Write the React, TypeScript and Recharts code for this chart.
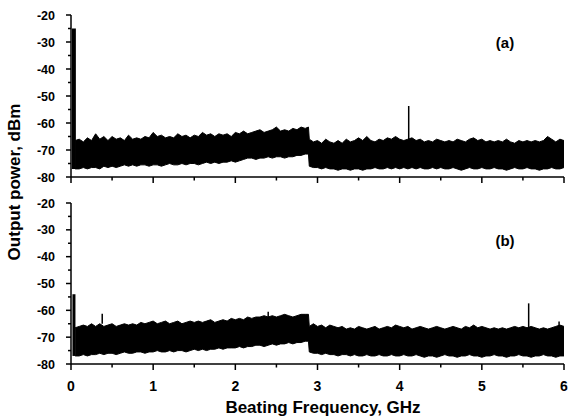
import { Area, ComposedChart, Line, XAxis, YAxis } from 'recharts'

const FONT = '"Liberation Sans", Arial, Helvetica, sans-serif'

// beat frequency grid, GHz (2.89 marks the step in the floor)
const freq = [
  0.05, 0.1, 0.15, 0.2, 0.25, 0.3, 0.35, 0.4, 0.45, 0.5,
  0.55, 0.6, 0.65, 0.7, 0.75, 0.8, 0.85, 0.9, 0.95, 1.0,
  1.05, 1.1, 1.15, 1.2, 1.25, 1.3, 1.35, 1.4, 1.45, 1.5,
  1.55, 1.6, 1.65, 1.7, 1.75, 1.8, 1.85, 1.9, 1.95, 2.0,
  2.05, 2.1, 2.15, 2.2, 2.25, 2.3, 2.35, 2.4, 2.45, 2.5,
  2.55, 2.6, 2.65, 2.7, 2.75, 2.8, 2.85, 2.89, 2.9, 2.95, 3.0,
  3.05, 3.1, 3.15, 3.2, 3.25, 3.3, 3.35, 3.4, 3.45, 3.5,
  3.55, 3.6, 3.65, 3.7, 3.75, 3.8, 3.85, 3.9, 3.95, 4.0,
  4.05, 4.1, 4.15, 4.2, 4.25, 4.3, 4.35, 4.4, 4.45, 4.5,
  4.55, 4.6, 4.65, 4.7, 4.75, 4.8, 4.85, 4.9, 4.95, 5.0,
  5.05, 5.1, 5.15, 5.2, 5.25, 5.3, 5.35, 5.4, 5.45, 5.5,
  5.55, 5.6, 5.65, 5.7, 5.75, 5.8, 5.85, 5.9, 5.95, 6.0,
]

// panel (a): noise floor upper / lower envelope, dBm
const hiA = [
  -66.5, -66, -67, -65.5, -66.5, -64, -66, -65, -66.5, -65,
  -66, -65.5, -66.5, -64.5, -66, -65.5, -66, -65, -65.5, -63.5,
  -65, -64.5, -65.5, -65, -65.5, -64, -65, -64.5, -65.5, -64.5,
  -65, -63.5, -64.5, -64, -65, -64, -64.5, -64, -65, -63.5,
  -64, -63, -64, -63.5, -63, -62.5, -63.5, -63, -62.5, -61.5,
  -63, -62.5, -63, -62, -62.5, -61.5, -62, -61.5, -66, -67, -66.5,
  -67.5, -66, -67, -67.5, -66.5, -67.5, -66, -67, -66.5, -65.5,
  -66.5, -65, -66.5, -67, -66, -66.5, -65.5, -66, -65, -66,
  -66.5, -66, -65.5, -66.5, -66, -67, -66.5, -67, -66, -66.5,
  -67, -66.5, -67, -66, -66.5, -67, -66, -65.5, -66.5, -66,
  -67, -66.5, -67, -66.5, -67, -66, -67, -67.5, -66.5, -67,
  -66.5, -67, -66.5, -67, -66.5, -65, -66, -67, -66, -66.5,
]
const loA = [
  -77, -77, -76.5, -77, -76.5, -76.5, -77, -76, -76.5, -76,
  -76.5, -76, -75.5, -76, -75.5, -76, -75.5, -75.5, -76, -75.5,
  -75.5, -76, -75.5, -75, -75.5, -75.5, -75, -75.5, -75, -75,
  -75.5, -75, -74.5, -75, -74.5, -75, -74.5, -74.5, -74, -74.5,
  -74, -73.5, -73, -73, -73.5, -73, -73, -72.5, -73, -72.5,
  -72.5, -73, -72.5, -72.5, -72, -72, -71.5, -71.5, -76, -76.5, -76.5,
  -77, -76.5, -77, -77, -77.5, -77, -77, -77.5, -77, -77,
  -77.5, -77, -77, -76.5, -77, -77, -76.5, -77, -76.5, -77,
  -76.5, -77, -76.5, -77, -76.5, -77, -77, -76.5, -77, -76.5,
  -77, -77, -76.5, -77, -77.5, -77, -76.5, -77, -77, -76.5,
  -77, -77, -76.5, -77, -77, -77.5, -77, -76.5, -77, -77,
  -76.5, -77, -77, -77.5, -77, -77, -76.5, -77, -77, -76.5,
]

// panel (b)
const hiB = [
  -66.5, -66, -65.5, -66, -65, -66, -65, -66, -65.5, -65,
  -66, -65.5, -65, -65.5, -65, -65.5, -64.5, -65, -64.5, -64,
  -65, -64.5, -64, -65, -64.5, -64, -65, -64.5, -64, -64.5,
  -64, -64.5, -64, -63.5, -64.5, -64, -63.5, -64, -63, -63.5,
  -63, -63.5, -62.5, -63, -62.5, -62.5, -62, -62.5, -62, -62.5,
  -62, -61.5, -62, -62.5, -62, -61.5, -61.5, -61.5, -66, -65, -66,
  -65.5, -66.5, -65.5, -66, -66.5, -66, -67, -66.5, -67, -66,
  -66.5, -67, -66.5, -66, -67, -66.5, -66, -66.5, -65.5, -66,
  -66.5, -66, -67, -66.5, -66, -66.5, -67, -66.5, -66, -66.5,
  -67, -66.5, -66, -66.5, -67, -66, -66.5, -65.5, -66.5, -66,
  -66.5, -67, -66.5, -67, -66.5, -67, -66.5, -66, -66.5, -66,
  -66.5, -66, -66.5, -67, -66.5, -67, -66.5, -66, -65.5, -66,
]
const loB = [
  -77, -77, -76.5, -77, -76.5, -76.5, -76, -76.5, -76, -76,
  -76.5, -76, -75.5, -76, -76, -75.5, -75.5, -76, -75.5, -75.5,
  -75, -75.5, -75.5, -75, -75.5, -75, -75, -75.5, -75, -74.5,
  -75, -74.5, -75, -74.5, -74.5, -74, -74.5, -74, -74, -74,
  -73.5, -74, -73.5, -73.5, -73, -73, -73.5, -73, -72.5, -73,
  -72.5, -72.5, -72, -72.5, -72, -72, -71.5, -71.5, -75.5, -76, -76,
  -76.5, -76, -76.5, -76.5, -77, -76.5, -76.5, -77, -76.5, -77,
  -77, -76.5, -77, -77, -76.5, -77, -77, -76.5, -77, -77,
  -76.5, -77, -77, -76.5, -77, -77.5, -77, -77, -77.5, -77,
  -76.5, -77, -77, -77.5, -77, -77, -76.5, -77, -77, -77.5,
  -77, -77, -76.5, -77, -77, -77.5, -77, -77, -76.5, -77,
  -77, -77.5, -77, -77, -76.5, -77, -77, -77.5, -77, -77,
]

// narrow beat tones sticking out of the floor
const spikeFreqA = [0.035, 4.11]
const spikeTopA = [-25, -53.7]
const spikeBaseA = [-77, -66]
const spikeWidthA = [4, 1.5]

const spikeFreqB = [0.036, 0.38, 2.4, 5.57, 5.94]
const spikeTopB = [-54, -61.3, -60.5, -57.4, -64.2]
const spikeBaseB = [-77, -65, -62.5, -66.5, -66]
const spikeWidthB = [3, 1.5, 1.5, 1.5, 1.5]

const xTicks = [0, 0.5, 1, 1.5, 2, 2.5, 3, 3.5, 4, 4.5, 5, 5.5, 6]
const yTicks = [-80, -75, -70, -65, -60, -55, -50, -45, -40, -35, -30, -25, -20]

function XTick({ x, y, payload, showLabel }: any) {
  const v = payload.value
  const major = Math.abs(v - Math.round(v)) < 1e-6
  return (
    <g>
      <line x1={x} x2={x} y1={y} y2={y + (major ? 6 : 3.5)} stroke="#000" strokeWidth={1.5} />
      {showLabel && major && (
        <text x={x} y={y + 27} textAnchor="middle" fontFamily={FONT} fontWeight="bold" fontSize={14} fill="#000">
          {v}
        </text>
      )}
    </g>
  )
}

function YTick({ x, y, payload }: any) {
  const v = payload.value
  const major = v % 10 === 0
  return (
    <g>
      <line x1={x - (major ? 5 : 3)} x2={x} y1={y} y2={y} stroke="#000" strokeWidth={1.5} />
      {major && (
        <text x={x - 16} y={y + 4.5} textAnchor="end" fontFamily={FONT} fontWeight="bold" fontSize={12.5} fill="#000">
          {v}
        </text>
      )}
    </g>
  )
}

interface PanelProps {
  hi: number[]
  lo: number[]
  spikeFreq: number[]
  spikeTop: number[]
  spikeBase: number[]
  spikeWidth: number[]
  showLabels: boolean
  height: number
  margin: { top: number; right: number; bottom: number; left: number }
  xAxisHeight: number
}

function Panel({ hi, lo, spikeFreq, spikeTop, spikeBase, spikeWidth, showLabels, height, margin, xAxisHeight }: PanelProps) {
  const rows = freq.map((f, i) => ({ f, hi: hi[i], lo: lo[i] }))
  return (
    <ComposedChart width={568} height={height} data={rows} margin={margin}>
      <XAxis
        type="number"
        dataKey="f"
        domain={[0, 6]}
        allowDataOverflow
        ticks={xTicks}
        interval={0}
        height={xAxisHeight}
        tickSize={0}
        tickMargin={0}
        tickLine={false}
        axisLine={{ stroke: '#000', strokeWidth: 1.5 }}
        tick={<XTick showLabel={showLabels} />}
      />
      <YAxis
        type="number"
        domain={[-80, -20]}
        allowDataOverflow
        ticks={yTicks}
        interval={0}
        width={60}
        tickSize={0}
        tickMargin={0}
        tickLine={false}
        axisLine={{ stroke: '#000', strokeWidth: 1.5 }}
        tick={<YTick />}
      />
      <Area
        type="linear"
        dataKey={(d: any) => [d.lo, d.hi]}
        stroke="#000"
        strokeWidth={1}
        fill="#000"
        fillOpacity={1}
        isAnimationActive={false}
      />
      {spikeFreq.map((f, i) => (
        <Line
          key={f}
          data={[
            { f, v: spikeBase[i] },
            { f, v: spikeTop[i] },
          ]}
          dataKey="v"
          stroke="#000"
          strokeWidth={spikeWidth[i]}
          dot={false}
          isAnimationActive={false}
        />
      ))}
    </ComposedChart>
  )
}

export default function App() {
  return (
    <div style={{ position: 'absolute', left: 0, top: 0, width: 568, height: 419, overflow: 'hidden', background: '#fff' }}>
      <div style={{ position: 'absolute', left: 0, top: 0 }}>
        <Panel
          hi={hiA}
          lo={loA}
          spikeFreq={spikeFreqA}
          spikeTop={spikeTopA}
          spikeBase={spikeBaseA}
          spikeWidth={spikeWidthA}
          showLabels={false}
          height={190}
          margin={{ top: 15, right: 4, bottom: 3, left: 11 }}
          xAxisHeight={10}
        />
      </div>
      <div style={{ position: 'absolute', left: 0, top: 190 }}>
        <Panel
          hi={hiB}
          lo={loB}
          spikeFreq={spikeFreqB}
          spikeTop={spikeTopB}
          spikeBase={spikeBaseB}
          spikeWidth={spikeWidthB}
          showLabels
          height={229}
          margin={{ top: 13, right: 4, bottom: 25, left: 11 }}
          xAxisHeight={30}
        />
      </div>
      <svg width={568} height={419} style={{ position: 'absolute', left: 0, top: 0, pointerEvents: 'none' }}>
        <text x={505} y={48} textAnchor="middle" fontFamily={FONT} fontWeight="bold" fontSize={15}>
          (a)
        </text>
        <text x={505} y={246} textAnchor="middle" fontFamily={FONT} fontWeight="bold" fontSize={15}>
          (b)
        </text>
        <text
          x={0}
          y={0}
          transform="translate(20,182) rotate(-90)"
          textAnchor="middle"
          fontFamily={FONT}
          fontWeight="bold"
          fontSize={17}
        >
          Output power, dBm
        </text>
        <text x={323} y={413} textAnchor="middle" fontFamily={FONT} fontWeight="bold" fontSize={17}>
          Beating Frequency, GHz
        </text>
      </svg>
    </div>
  )
}
